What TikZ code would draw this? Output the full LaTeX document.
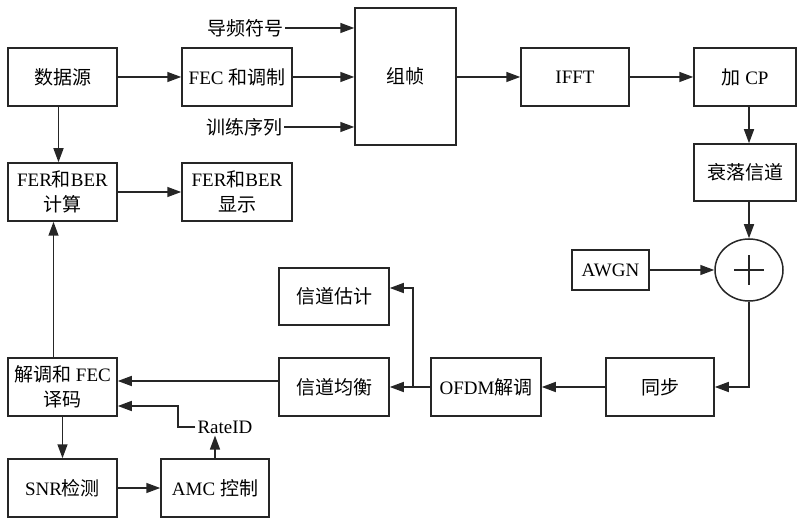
\documentclass[tikz,border=0pt]{standalone}
\usepackage{fontspec}
\setmainfont{Liberation Serif}
\newfontfamily\cjk{Noto Sans CJK SC}
\newcommand{\zh}[1]{{\cjk #1}}
\usetikzlibrary{arrows.meta,shapes.geometric}
\definecolor{lc}{HTML}{262626}
\begin{document}
\begin{tikzpicture}[x=1pt,y=-1pt,
  blk/.style={draw=lc, line width=1.5pt, inner sep=0pt, align=center,
    font=\fontsize{19}{25}\selectfont, text=black, minimum width=109pt, minimum height=58pt},
  txt/.style={inner sep=2pt, font=\fontsize{19}{25}\selectfont, text=black},
  arr/.style={draw=lc, line width=1.5pt, -{Triangle[length=14pt,width=10pt]}},
  ln/.style={draw=lc, line width=1.5pt}]
\useasboundingbox (0,0) rectangle (797,518);
% nodes
\node[blk] (src) at (62.5,77) {\zh{数据源}};
\node[blk, minimum width=110pt] (fec) at (237,77) {FEC \zh{和调制}};
\node[txt] (pilot) at (245,28) {\zh{导频符号}};
\node[txt] (train) at (244,127) {\zh{训练序列}};
\node[blk, minimum width=101pt, minimum height=137pt] (frame) at (405.5,76.5) {\zh{组帧}};
\node[blk, minimum width=108pt] (ifft) at (575,77) {IFFT};
\node[blk, minimum width=102pt] (cp) at (745,77) {\zh{加} CP};
\node[blk, minimum width=102pt, minimum height=57pt] (fade) at (745,172.5) {\zh{衰落信道}};
\node[draw=lc, line width=1.5pt, ellipse, minimum width=68pt, minimum height=62pt, inner sep=0pt] (sum) at (749,270) {};
\node[blk, minimum width=77pt, minimum height=40pt] (awgn) at (610.5,270) {AWGN};
\node[blk, minimum width=108pt] (sync) at (660,387) {\zh{同步}};
\node[blk, minimum width=110pt] (ofdm) at (486,387) {OFDM\zh{解调}};
\node[blk, minimum width=110pt] (eq) at (334,387) {\zh{信道均衡}};
\node[blk, minimum width=110pt, minimum height=57pt] (est) at (334,296.5) {\zh{信道估计}};
\node[blk] (dec) at (62.5,387) {\zh{解调和} FEC\\\zh{译码}};
\node[blk] (snr) at (62.5,488) {SNR\zh{检测}};
\node[blk, minimum width=108pt] (amc) at (215,488) {AMC \zh{控制}};
\node[blk] (fercalc) at (62.5,192) {FER\zh{和}BER\\\zh{计算}};
\node[blk, minimum width=110pt] (ferdisp) at (237,192) {FER\zh{和}BER\\\zh{显示}};
\node[txt] (rate) at (225,427) {RateID};
% plus sign
\draw[ln] ([xshift=-15pt]sum.center) -- ([xshift=15pt]sum.center);
\draw[ln] ([yshift=-15pt]sum.center) -- ([yshift=15pt]sum.center);
% connectors
\draw[arr] (src) -- (fec);
\draw[arr] (fec) -- (fec -| frame.west);
\draw[arr] (pilot.east) -- (pilot.east -| frame.west);
\draw[arr] (train.east) -- (train.east -| frame.west);
\draw[arr] (frame.east |- ifft) -- (ifft);
\draw[arr] (ifft) -- (cp);
\draw[arr] (cp.south -| sum) -- (fade.north -| sum);
\draw[arr] (fade.south -| sum) -- (sum);
\draw[arr] (awgn) -- (awgn -| sum.west);
\draw[arr] (sum.south) |- (sync.east);
\draw[arr] (sync) -- (ofdm);
\draw[arr] (ofdm) -- (eq);
\coordinate (br) at (413,387);
\draw[arr] (br) |- ([yshift=8.5pt]est.east);
\draw[arr] ([yshift=6pt]eq.west) -- ([yshift=6pt]dec.east);
\coordinate (rk) at (178,406);
\draw[arr] (rate.west) -| (rk) -- (rk -| dec.east);
\draw[arr] (amc.north) -- (amc.north |- rate.south);
\draw[arr] (dec) -- (snr);
\draw[arr] (snr) -- (amc);
\draw[arr] ([xshift=-9pt]dec.north) -- ([xshift=-9pt]fercalc.south);
\draw[arr] ([xshift=-4pt]src.south) -- ([xshift=-4pt]fercalc.north);
\draw[arr] (fercalc) -- (ferdisp);
\end{tikzpicture}
\end{document}
